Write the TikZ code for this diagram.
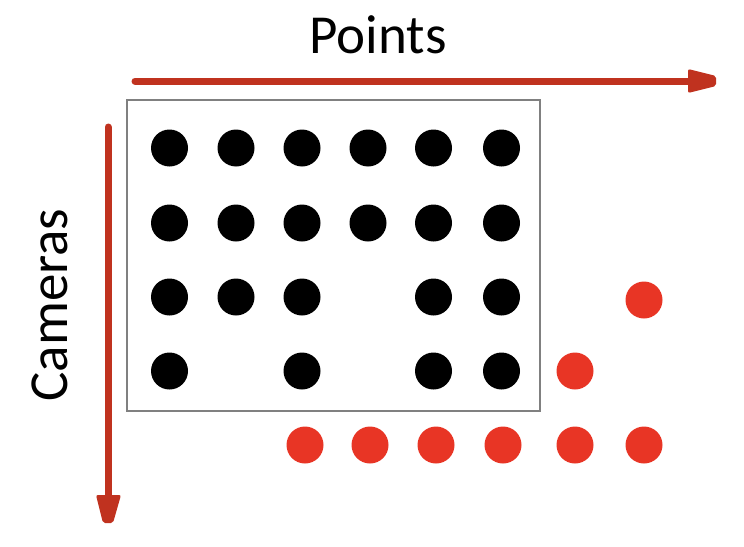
\documentclass[tikz,border=0pt]{standalone}
\usepackage{fontspec}
\setmainfont{Carlito}
\definecolor{axisred}{HTML}{C0321F}
\definecolor{dotred}{HTML}{E83525}
\definecolor{boxgray}{HTML}{808080}
\begin{document}
\begin{tikzpicture}[x=1pt,y=-1pt,
  bdot/.style={circle,fill=black,inner sep=0pt,minimum size=37pt},
  rdot/.style={circle,fill=dotred,inner sep=0pt,minimum size=37pt},
  axis/.style={draw=axisred,line width=7pt,line cap=round},
  axhead/.style={fill=axisred,rounded corners=2pt},
  lbl/.style={font=\fontsize{55}{60}\selectfont,inner sep=0pt}]
\useasboundingbox (0,0) rectangle (744,546);
% frame
\draw[boxgray,line width=2pt] (126.5,99.5) rectangle (540,410.5);
% axes
\coordinate (hs) at (135,81);
\coordinate (he) at (690,81);
\coordinate (vs) at (108,127);
\coordinate (ve) at (108,497);
\draw[axis] (hs) -- (he);
\fill[axhead] (688,69) -- (716,76) -- (716,86) -- (688,93) -- cycle;
\draw[axis] (vs) -- (ve);
\fill[axhead] (96,495) -- (121,495) -- (113,523) -- (103,523) -- cycle;
% labels
\node[lbl,anchor=base] (pts) at (378,53) {Points};
\node[lbl,anchor=base,rotate=90] (cams) at (67,305) {Cameras};
% black dots
\foreach \r/\y in {1/148,2/223,3/297,4/371}{
  \foreach \c/\x in {1/169.5,2/236,3/302,4/368,5/433.5,6/501.5}{
    \pgfmathsetmacro{\show}{1}
    \ifnum\r=3 \ifnum\c=4 \def\show{0}\fi\fi
    \ifnum\r=4 \ifnum\c=2 \def\show{0}\fi\ifnum\c=4 \def\show{0}\fi\fi
    \ifdim\show pt>0.5pt
      \node[bdot] (b\r\c) at (\x,\y) {};
    \fi
  }
}
% red dots
\node[rdot] (r1) at (644,300) {};
\node[rdot] (r2) at (575,371) {};
\foreach \i/\x in {1/305,2/370,3/436,4/503,5/575,6/644}{
  \node[rdot] (rb\i) at (\x,445) {};
}
\end{tikzpicture}
\end{document}
